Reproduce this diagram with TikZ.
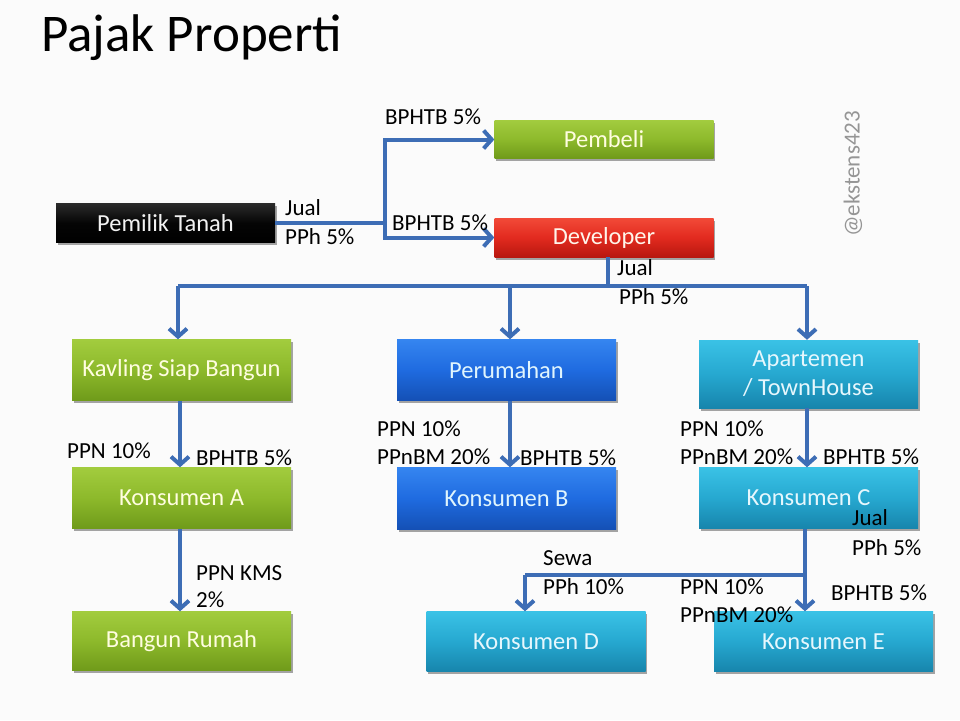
\documentclass[tikz,border=0pt]{standalone}
\usepackage{fontspec}
\setmainfont{Carlito}
\usetikzlibrary{arrows.meta,shadows,calc}
\definecolor{conncol}{HTML}{3D6DB5}
\definecolor{bgcol}{HTML}{FBFBFB}
\definecolor{gtop}{HTML}{A2CC3E}
\definecolor{gmid}{HTML}{8DB92B}
\definecolor{gbot}{HTML}{6F9A1A}
\definecolor{rtop}{HTML}{F24A38}
\definecolor{rmid}{HTML}{E22A1F}
\definecolor{rbot}{HTML}{B8170F}
\definecolor{btop}{HTML}{3585F0}
\definecolor{bmid}{HTML}{1F6BE0}
\definecolor{bbot}{HTML}{1450B5}
\definecolor{ctop}{HTML}{3AC2E6}
\definecolor{cmid}{HTML}{26A8D0}
\definecolor{cbot}{HTML}{1785AC}
\definecolor{ktop}{HTML}{2A2A2A}
\definecolor{kmid}{HTML}{050505}
\definecolor{kbot}{HTML}{000000}
\definecolor{wmcol}{HTML}{959595}
\begin{document}
\begin{tikzpicture}[x=1pt,y=-1pt,
  bx/.style={rectangle, minimum width=219pt, inner sep=0pt, align=center,
    font=\fontsize{24.5}{29}\selectfont,
    drop shadow={shadow xshift=1.5pt, shadow yshift=-2.5pt, opacity=0.35, fill=black}},
  gbox/.style={bx, top color=gtop, bottom color=gbot, middle color=gmid, text=white!88!yellow},
  rbox/.style={bx, top color=rtop, bottom color=rbot, middle color=rmid, text=white!92!orange},
  bbox/.style={bx, top color=btop, bottom color=bbot, middle color=bmid, text=white!88!cyan},
  cbox/.style={bx, top color=ctop, bottom color=cbot, middle color=cmid, text=white!90!cyan},
  kbox/.style={bx, top color=ktop, bottom color=kbot, middle color=kmid, text=white!95!black},
  conn/.style={draw=conncol, line width=4pt, line join=miter},
  arr/.style={conn, -{Straight Barb[length=8pt,width=18pt,line join=miter]}},
  lab/.style={anchor=west, inner sep=0pt, font=\fontsize{23}{28}\selectfont, text=black}
]
\useasboundingbox (0,0) rectangle (960,720);
\fill[bgcol] (0,0) rectangle (960,720);

% title
\node[anchor=west, inner sep=0pt, font=\fontsize{53}{60}\selectfont] (title) at (41,38) {Pajak Properti};

% watermark
\node[rotate=90, inner sep=0pt, text=wmcol, font=\fontsize{23}{28}\selectfont] (wm) at (853,174) {@ekstens423};

% boxes
\node[kbox, minimum height=39pt] (pem) at (165.5,223) {Pemilik Tanah};
\node[gbox, minimum height=38pt] (pembeli) at (604,139.5) {Pembeli};
\node[rbox, minimum height=39pt] (dev) at (604,237.5) {Developer};
\node[gbox, minimum height=61pt] (kav) at (181.5,370) {Kavling Siap Bangun};
\node[bbox, minimum height=61pt] (per) at (506.5,370) {Perumahan};
\node[cbox, minimum height=68pt] (apt) at (808.5,374) {Apartemen\\/ TownHouse};
\node[gbox, minimum height=61pt] (ka) at (181.5,498) {Konsumen A};
\node[bbox, minimum height=62pt] (kb) at (506.5,498.5) {Konsumen B};
\node[cbox, minimum height=61pt] (kc) at (808.5,498) {Konsumen C};
\node[gbox, minimum height=59pt] (br) at (181.5,641) {Bangun Rumah};
\node[cbox, minimum height=60pt] (kd) at (536,641.5) {Konsumen D};
\node[cbox, minimum height=60pt] (ke) at (823.5,641.5) {Konsumen E};

% connectors: Pemilik -> Pembeli / Developer
\coordinate (j1) at (385,223);
\draw[conn] (pem.east) -- (j1);
\draw[arr] (j1) |- (pembeli.west);
\draw[arr] (j1) |- (dev.west);

% Developer -> three branches
\coordinate (d1) at (608,286);
\coordinate (bl) at (178,286);
\coordinate (bm) at (510,286);
\coordinate (br1) at (807,286);
\draw[conn] (dev.south -| d1) -- (d1);
\draw[conn] (bl) -- (br1);
\draw[arr] (bl) -- (bl |- kav.north);
\draw[arr] (bm) -- (bm |- per.north);
\draw[arr] (br1) -- (br1 |- apt.north);

% column connectors
\coordinate (ca) at (180,0);
\draw[arr] (kav.south -| ca) -- (ka.north -| ca);
\draw[arr] (ka.south -| ca) -- (br.north -| ca);
\coordinate (cb) at (510,0);
\draw[arr] (per.south -| cb) -- (kb.north -| cb);
\coordinate (cc) at (807,0);
\draw[arr] (apt.south -| cc) -- (kc.north -| cc);

% Konsumen C -> D / E
\coordinate (e1) at (805,575);
\coordinate (e2) at (525,575);
\draw[conn] (kc.south -| e1) -- (e1);
\draw[conn] (e1) -- (e2);
\draw[arr] (e2) -- (e2 |- kd.north);
\draw[arr] (e1) -- (e1 |- ke.north);

% labels
\node[lab] (l1) at (285,208) {Jual};
\node[lab] (l2) at (285,237) {PPh 5\%};
\node[lab] (l3) at (385,117) {BPHTB 5\%};
\node[lab] (l4) at (392,223) {BPHTB 5\%};
\node[lab] (l5) at (617,268) {Jual};
\node[lab] (l6) at (619,297) {PPh 5\%};

\node[lab] (l7) at (67,451) {PPN 10\%};
\node[lab] (l8) at (196,458) {BPHTB 5\%};
\node[lab] (l9) at (196,573) {PPN KMS};
\node[lab] (l10) at (196,600) {2\%};

\node[lab] (l11) at (377,429) {PPN 10\%};
\node[lab] (l12) at (377,457) {PPnBM 20\%};
\node[lab] (l13) at (520,458) {BPHTB 5\%};

\node[lab] (l14) at (680,429) {PPN 10\%};
\node[lab] (l15) at (680,457) {PPnBM 20\%};
\node[lab] (l16) at (823,457) {BPHTB 5\%};

\node[lab] (l17) at (852,518) {Jual};
\node[lab] (l18) at (852,548) {PPh 5\%};
\node[lab] (l19) at (543,558) {Sewa};
\node[lab] (l20) at (543,587) {PPh 10\%};
\node[lab] (l21) at (680,587) {PPN 10\%};
\node[lab] (l22) at (680,615) {PPnBM 20\%};
\node[lab] (l23) at (831,593) {BPHTB 5\%};
\end{tikzpicture}
\end{document}
